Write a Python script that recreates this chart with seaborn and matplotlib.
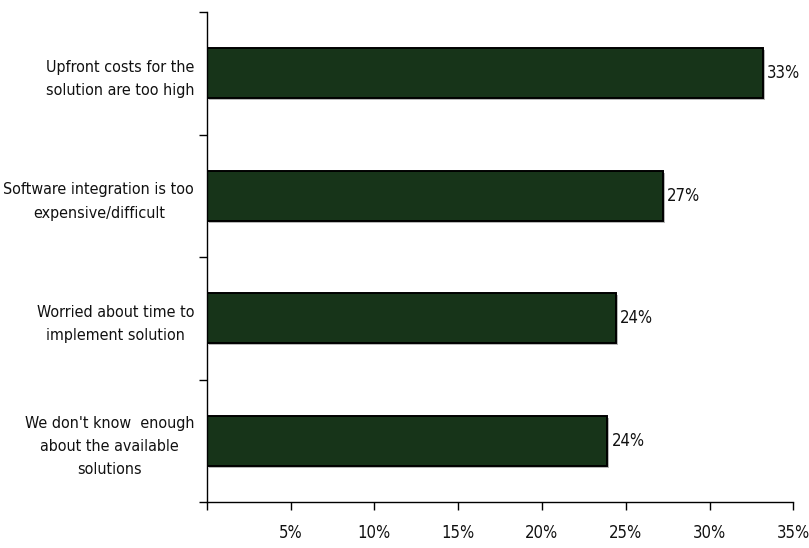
import matplotlib
matplotlib.use("Agg")
import matplotlib.pyplot as plt
import matplotlib.patheffects as pe
from matplotlib.ticker import FixedLocator
import seaborn as sns
import pandas as pd

categories = [
    "Upfront costs for the\nsolution are too high",
    "Software integration is too\nexpensive/difficult",
    "Worried about time to\nimplement solution",
    "We don't know  enough\nabout the available\nsolutions",
]
values = [33.2, 27.2, 24.4, 23.9]
value_labels = ["33%", "27%", "24%", "24%"]
x_ticks = [0, 5, 10, 15, 20, 25, 30, 35]
x_tick_labels = ["", "5%", "10%", "15%", "20%", "25%", "30%", "35%"]

sns.set_style("white")
plt.rcParams["font.family"] = ["DejaVu Sans"]
plt.rcParams["font.stretch"] = "condensed"

df = pd.DataFrame({"cat": categories, "val": values})

fig = plt.figure(figsize=(8.09, 5.48), dpi=100)
ax = fig.add_axes([0.2555, 0.0839, 0.9806 - 0.2555, 0.978 - 0.0839])

sns.barplot(data=df, x="val", y="cat", orient="h", color="#173419",
            edgecolor="black", linewidth=1.4, width=0.41, saturation=1,
            ax=ax)

for p in ax.patches:
    p.set_path_effects([pe.SimplePatchShadow(offset=(1.5, -1.5), shadow_rgbFace="#888888", alpha=0.6),
                        pe.Normal()])

ax.bar_label(ax.containers[0], labels=value_labels, padding=3, fontsize=12, color="#111111")

ax.set_xlim(0, 35)
ax.set_ylim(3.5, -0.5)
ax.set_xticks(x_ticks)
ax.set_xticklabels(x_tick_labels, fontsize=12, color="#111111")
ax.tick_params(axis="x", direction="out", length=6, width=1, color="black", pad=10, bottom=True)

ax.tick_params(axis="y", which="major", length=0, pad=9)
ax.yaxis.set_minor_locator(FixedLocator([-0.5, 0.5, 1.5, 2.5, 3.5]))
ax.tick_params(axis="y", which="minor", direction="out", length=6, width=1, color="black", left=True)
for lab in ax.get_yticklabels():
    lab.set_multialignment("center")
    lab.set_fontsize(11.5)
    lab.set_color("#111111")
    lab.set_linespacing(1.7)
ax.set_xlabel("")
ax.set_ylabel("")

for s in ["top", "right"]:
    ax.spines[s].set_visible(False)
for s in ["left", "bottom"]:
    ax.spines[s].set_color("black")
    ax.spines[s].set_linewidth(1)

fig.savefig("out.png", dpi=100)
